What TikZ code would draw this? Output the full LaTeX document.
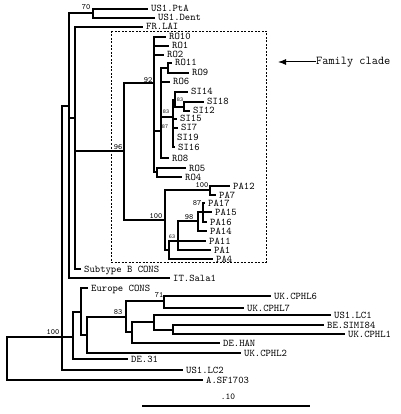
\documentclass[tikz,border=0pt]{standalone}
\usetikzlibrary{arrows.meta}

\begin{document}
\begin{tikzpicture}[x=1pt,y=-1pt,
    br/.style={line width=1.7pt},
    taxon/.style={anchor=west,inner xsep=3pt,inner ysep=0pt,text height=6pt,text depth=0pt,
      font=\ttfamily\fontsize{10.2}{12}\selectfont},
    boot/.style={inner sep=0pt,font=\ttfamily\fontsize{8}{9}\selectfont},
    sboot/.style={inner sep=0pt,font=\ttfamily\fontsize{5.8}{6}\selectfont}]

    \useasboundingbox (0,0) rectangle (400,414);

    %internal nodes of the tree
    \coordinate (root)   at (7,358);
    \coordinate (n100)   at (62,337);
    \coordinate (nP)     at (69,106);
    \coordinate (n70)    at (93,13);
    \coordinate (nQ)     at (75,118);
    \coordinate (n96)    at (124,151);
    \coordinate (n92)    at (154,83);
    \coordinate (nA)     at (161,131);
    \coordinate (nR119)  at (168,68);
    \coordinate (nSI)    at (173,117);
    \coordinate (nSIa)   at (175,100);
    \coordinate (nS83)   at (184,107);
    \coordinate (nR54)   at (157,172);
    \coordinate (npa)    at (165,220);
    \coordinate (npa100) at (210,190);
    \coordinate (npa63)  at (169,250);
    \coordinate (nB)     at (178,241);
    \coordinate (n98)    at (198,221);
    \coordinate (n87)    at (203,212);
    \coordinate (n73)    at (73,337);
    \coordinate (n81)    at (81,312);
    \coordinate (n87b)   at (87,335);
    \coordinate (n83)    at (126,317);
    \coordinate (n71)    at (164,301);
    \coordinate (nX)     at (132,332);
    \coordinate (nY)     at (154,322);
    \coordinate (nZ)     at (173,330);

    %taxa, placed at the branch tips
    \node[taxon] (us1pta)  at (148,9)   {US1.PtA};
    \node[taxon] (us1dent) at (155,18)  {US1.Dent};
    \node[taxon] (frlai)   at (143,27)  {FR.LAI};
    \node[taxon] (ro10)    at (166,37)  {RO10};
    \node[taxon] (ro1)     at (169,46)  {RO1};
    \node[taxon] (ro2)     at (164,55)  {RO2};
    \node[taxon] (ro11)    at (172,63)  {RO11};
    \node[taxon] (ro9)     at (189,73)  {RO9};
    \node[taxon] (ro6)     at (170,82)  {RO6};
    \node[taxon] (si14)    at (188,92)  {SI14};
    \node[taxon] (si18)    at (204,102) {SI18};
    \node[taxon] (si12)    at (190,111) {SI12};
    \node[taxon] (si15)    at (177,119) {SI15};
    \node[taxon] (si7)     at (178,128) {SI7};
    \node[taxon] (si19)    at (174,137) {SI19};
    \node[taxon] (si16)    at (175,147) {SI16};
    \node[taxon] (ro8)     at (169,158) {RO8};
    \node[taxon] (ro5)     at (186,168) {RO5};
    \node[taxon] (ro4)     at (182,177) {RO4};
    \node[taxon] (pa12)    at (230,186) {PA12};
    \node[taxon] (pa7)     at (216,195) {PA7};
    \node[taxon] (pa17)    at (205,203) {PA17};
    \node[taxon] (pa15)    at (212,212) {PA15};
    \node[taxon] (pa16)    at (207,222) {PA16};
    \node[taxon] (pa14)    at (207,231) {PA14};
    \node[taxon] (pa11)    at (206,241) {PA11};
    \node[taxon] (pa1)     at (211,250) {PA1};
    \node[taxon] (pa4)     at (213,259) {PA4};
    \node[taxon] (subb)    at (81,269)  {Subtype B CONS};
    \node[taxon] (itsala)  at (170,278) {IT.Sala1};
    \node[taxon] (euro)    at (88,288)  {Europe CONS};
    \node[taxon] (cphl6)   at (271,296) {UK.CPHL6};
    \node[taxon] (cphl7)   at (244,308) {UK.CPHL7};
    \node[taxon] (lc1)     at (331,315) {US1.LC1};
    \node[taxon] (simi)    at (324,325) {BE.SIMI84};
    \node[taxon] (cphl1)   at (345,334) {UK.CPHL1};
    \node[taxon] (dehan)   at (220,343) {DE.HAN};
    \node[taxon] (cphl2)   at (241,353) {UK.CPHL2};
    \node[taxon] (de31)    at (128,359) {DE.31};
    \node[taxon] (lc2)     at (183,370) {US1.LC2};
    \node[taxon] (sf1703)  at (203,380) {A.SF1703};

    %branches
    \foreach \p/\c in {root/n100, root/sf1703, n100/nP, n100/n73, n100/lc2,
        nP/n70, nP/nQ, nP/itsala, n70/us1pta, n70/us1dent,
        nQ/frlai, nQ/n96, nQ/subb, n96/n92, n96/npa,
        n92/ro10, n92/ro1, n92/ro2, n92/nA, n92/nR54,
        nA/nR119, nA/ro6, nA/nSI, nA/ro8, nR119/ro11, nR119/ro9,
        nSI/nSIa, nSI/si15, nSI/si7, nSI/si19, nSI/si16,
        nSIa/si14, nSIa/nS83, nS83/si18, nS83/si12, nR54/ro5, nR54/ro4,
        npa/npa100, npa/npa63, npa100/pa12, npa100/pa7,
        npa63/nB, npa63/pa4, nB/n98, nB/pa11, nB/pa1,
        n98/n87, n98/pa14, n87/pa17, n87/pa15, n87/pa16,
        n73/n81, n73/de31, n81/euro, n81/n87b, n87b/n83, n87b/cphl2,
        n83/n71, n83/nX, n71/cphl6, n71/cphl7,
        nX/nY, nX/dehan, nY/lc1, nY/nZ, nZ/simi, nZ/cphl1}
      \draw[br] (\p) |- (\c);

    %bootstrap values
    \node[boot]  (b70)   at (86,7)    {70};
    \node[boot]  (b92)   at (148,80)  {92};
    \node[boot]  (b96)   at (118,147) {96};
    \node[sboot] (bsi83) at (166,112) {83};
    \node[sboot] (bsi87) at (165,127) {87};
    \node[sboot] (bs83)  at (180,100) {83};
    \node[boot]  (bpa)   at (156,216) {100};
    \node[boot]  (bpa12) at (202,185) {100};
    \node[boot]  (bpa87) at (197,203) {87};
    \node[boot]  (b98)   at (189,217) {98};
    \node[sboot] (b63)   at (172,237) {63};
    \node[boot]  (b71)   at (159,295) {71};
    \node[boot]  (b83)   at (118,312) {83};
    \node[boot]  (b100)  at (53,332)  {100};

    %family clade box and arrow
    \draw[line width=0.7pt, dash pattern=on 2pt off 1.5pt] (111,31) rectangle (266,262);
    \node[anchor=west,inner sep=0pt,font=\ttfamily\fontsize{12}{14}\selectfont] (fam) at (316,62) {Family clade};
    \coordinate (famtip) at (278,62);
    \draw[line width=1pt,-{Latex[length=8pt,width=6pt]}] (fam.west) -- (famtip);

    %scale bar
    \coordinate (sbl) at (142,406);
    \coordinate (sbr) at (310,406);
    \draw[br] (sbl) -- (sbr);
    \node[boot,font=\ttfamily\fontsize{9}{10}\selectfont] (sblab) at (228,397) {.10};

\end{tikzpicture}
\end{document}
